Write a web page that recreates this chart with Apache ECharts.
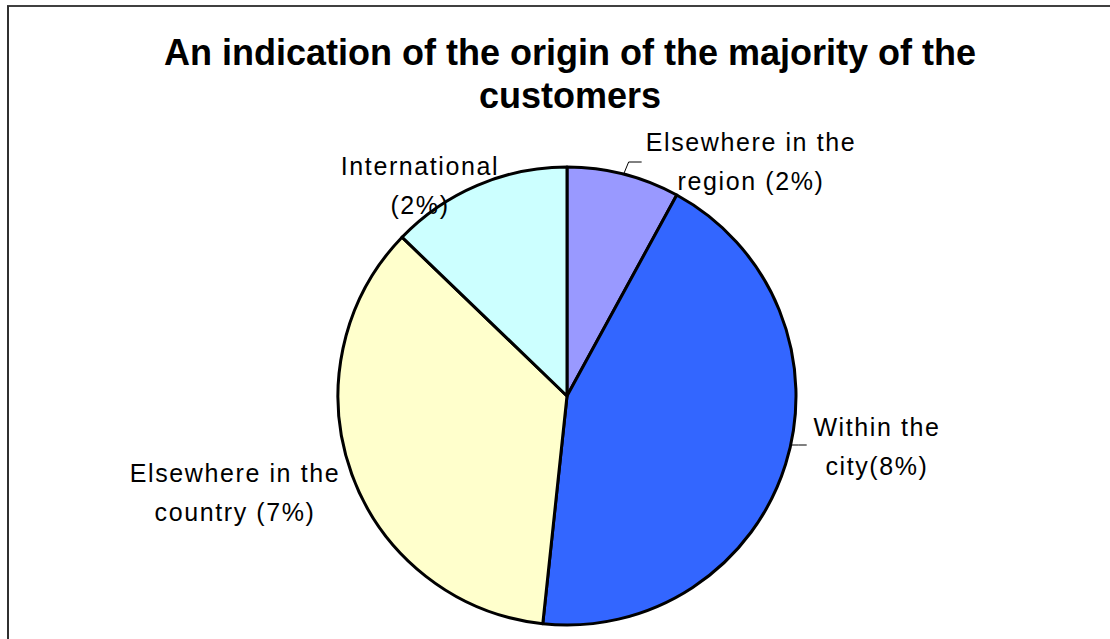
<!DOCTYPE html>
<html>
<head>
<meta charset="utf-8">
<style>
  html, body { margin: 0; padding: 0; background: #ffffff; }
  #chart { width: 1110px; height: 639px; }
  /* slice captions are set a little wider than plain Arial */
  #chart text { letter-spacing: 1.6px; }
  #chart text[style*="bold"] { letter-spacing: 0; }
</style>
<script src="https://cdn.jsdelivr.net/npm/echarts@6/dist/echarts.min.js"></script>
</head>
<body>
<div id="chart"></div>
<script>
// Where the majority of the customers come from (share, in percent)
const categories = ['Elsewhere in the region', 'Within the city', 'Elsewhere in the country', 'International'];
const shares = [1.51, 8.3, 6.74, 2.43];
// Label wording before the rounded percentage
const labelHeads = ['Elsewhere in the\nregion ', 'Within the\ncity', 'Elsewhere in the\ncountry ', 'International\n'];
const sliceColors = ['#9999FF', '#3366FF', '#FFFFCC', '#CCFFFF'];

// Layout of the pie and its labels (pixels)
const pieCenter = [567, 396];
const pieRadius = 229;
const labelCenters = [[751, 161], [877, 446], [235, 492], [420, 185]];
const showLeader = [true, true, false, false];

const chart = echarts.init(document.getElementById('chart'), null, { renderer: 'svg' });

const data = categories.map((name, i) => ({
  name: name,
  value: shares[i],
  itemStyle: { color: sliceColors[i] },
  labelLine: { show: showLeader[i] }
}));

chart.setOption({
  animation: false,
  backgroundColor: '#ffffff',
  title: {
    text: 'An indication of the origin of the majority of the\ncustomers',
    left: 565,
    top: 26,
    textAlign: 'center',
    textStyle: {
      fontFamily: 'Liberation Sans, Arial, sans-serif',
      fontSize: 36,
      fontWeight: 'bold',
      color: '#000000',
      lineHeight: 43
    }
  },
  graphic: [
    { type: 'line', shape: { x1: 7, y1: 6, x2: 1110, y2: 6 }, style: { stroke: '#404040', lineWidth: 2 } },
    { type: 'line', shape: { x1: 8, y1: 6, x2: 8, y2: 639 }, style: { stroke: '#303030', lineWidth: 2 } }
  ],
  series: [{
    type: 'pie',
    center: pieCenter,
    radius: pieRadius,
    startAngle: 90,
    clockwise: true,
    avoidLabelOverlap: false,
    data: data,
    itemStyle: { borderColor: '#000000', borderWidth: 3 },
    emphasis: { disabled: true },
    label: {
      show: true,
      position: 'outside',
      formatter: p => labelHeads[p.dataIndex] + '(' + Math.round(p.value) + '%)',
      fontFamily: 'Liberation Sans, Arial, sans-serif',
      fontSize: 25,
      lineHeight: 39,
      color: '#000000'
    },
    labelLine: {
      show: true,
      length: 8,
      length2: 12,
      smooth: false,
      lineStyle: { color: '#000000', width: 1 }
    },
    labelLayout: function (params) {
      const c = labelCenters[params.dataIndex];
      const out = { x: c[0], y: c[1], align: 'center', verticalAlign: 'middle' };
      if (params.dataIndex === 0) {
        // short bent leader from the middle of the arc up to the caption's mid height
        const a = (shares[0] / 2) / shares.reduce((s, v) => s + v, 0) * 2 * Math.PI;
        const sx = pieCenter[0] + pieRadius * Math.sin(a);
        const sy = pieCenter[1] - pieRadius * Math.cos(a);
        const ey = c[1] + 1;
        out.labelLinePoints = [[sx, sy], [sx + 5, ey], [sx + 18, ey]];
      } else if (params.dataIndex === 1) {
        // horizontal leader meeting the arc at the caption's mid height
        const ly = c[1] - 1;
        const sx = pieCenter[0] + Math.sqrt(pieRadius * pieRadius - Math.pow(ly - pieCenter[1], 2));
        out.labelLinePoints = [[sx, ly], [sx + 8, ly], [sx + 16, ly]];
      }
      return out;
    }
  }]
});
</script>
</body>
</html>
